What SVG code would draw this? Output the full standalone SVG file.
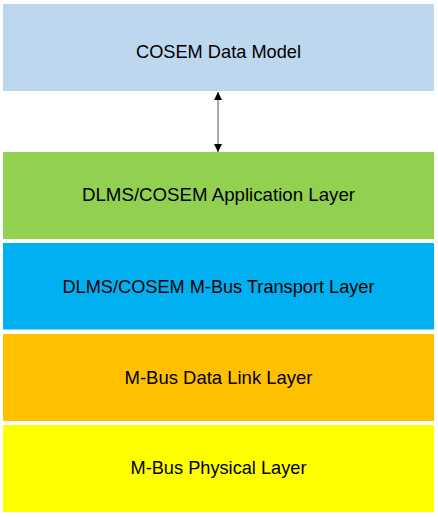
<svg xmlns="http://www.w3.org/2000/svg" width="438" height="517" viewBox="0 0 438 517">
<style>
.lbl{font-family:"Liberation Sans",Arial,sans-serif;font-size:19px;fill:#000;text-anchor:middle}
</style>
<defs>
<marker id="ah" viewBox="0 0 10 10" refX="10" refY="5" markerWidth="8" markerHeight="9" markerUnits="userSpaceOnUse" orient="auto-start-reverse">
<path d="M0,0 L10,5 L0,10 z" fill="#000"/>
</marker>
</defs>
<rect width="438" height="517" fill="#fff"/>
<g id="cosem-data-model">
<rect x="3" y="4" width="431" height="87" fill="#BDD7EE"/>
<text class="lbl" x="218.5" y="57.5" textLength="165" lengthAdjust="spacingAndGlyphs">COSEM Data Model</text>
</g>
<g id="application-layer">
<rect x="3" y="152" width="431" height="87" fill="#92D050"/>
<text class="lbl" x="218.5" y="201" textLength="273" lengthAdjust="spacingAndGlyphs">DLMS/COSEM Application Layer</text>
</g>
<g id="transport-layer">
<rect x="3" y="243" width="431" height="86.5" fill="#00B0F0"/>
<text class="lbl" x="218.5" y="293" textLength="312" lengthAdjust="spacingAndGlyphs">DLMS/COSEM M-Bus Transport Layer</text>
</g>
<g id="data-link-layer">
<rect x="3" y="334" width="431" height="87" fill="#FFC000"/>
<text class="lbl" x="218.5" y="383.5" textLength="188" lengthAdjust="spacingAndGlyphs">M-Bus Data Link Layer</text>
</g>
<g id="physical-layer">
<rect x="3" y="425" width="431" height="87" fill="#FFFF00"/>
<text class="lbl" x="218.5" y="474" textLength="176" lengthAdjust="spacingAndGlyphs">M-Bus Physical Layer</text>
</g>
<g id="connectors">
<line x1="218" y1="92" x2="218" y2="152" stroke="#595959" stroke-width="1" marker-start="url(#ah)" marker-end="url(#ah)"/>
</g>
</svg>
